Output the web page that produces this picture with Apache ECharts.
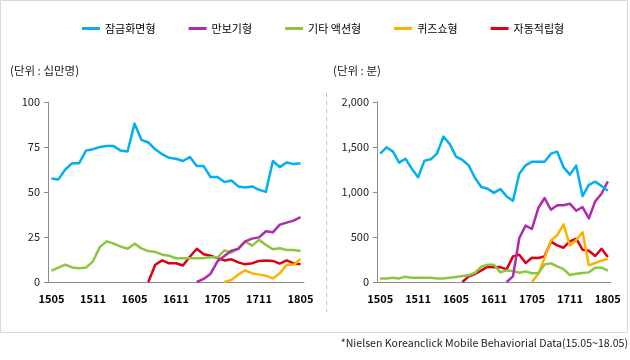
<!DOCTYPE html>
<html>
<head>
<meta charset="utf-8">
<script src="https://cdn.jsdelivr.net/npm/echarts@6/dist/echarts.min.js"></script>
<style>
html,body{margin:0;padding:0;background:#fff;}
#chart{width:630px;height:360px;}
</style>
</head>
<body>
<div id="chart"></div>
<script>
var months = ['1505','1506','1507','1508','1509','1510','1511','1512','1601','1602','1603','1604','1605','1606','1607','1608','1609','1610','1611','1612','1701','1702','1703','1704','1705','1706','1707','1708','1709','1710','1711','1712','1801','1802','1803','1804','1805'];
var seriesNames = ['잠금화면형','만보기형','기타 액션형','퀴즈쇼형','자동적립형'];
var colors = ['#00B0F0','#B02AB0','#8CC63F','#FFB000','#E00016'];

// 사용자 수 (단위: 십만명)
var lockUsers = [57.5,57,62.5,66,66,73,73.8,75,75.5,75.5,73,72.5,88,79,77.5,73.7,71,69,68.5,67.2,69.4,64.4,64.4,58.3,58.3,55.5,56.4,53.1,52.5,53.1,51.2,50.1,67.2,63.8,66.4,65.5,66];
var stepUsers = [null,null,null,null,null,null,null,null,null,null,null,null,null,null,null,null,null,null,null,null,null,0,1.7,4.6,11.5,14.5,17.4,18.4,22.6,24.1,24.8,28.2,27.6,31.9,33,34.1,36];
var actionUsers = [6.3,8,9.6,8.1,7.6,8,11.5,19.5,22.6,21.3,19.7,18.5,21.3,18.7,17.2,16.7,15.2,14.6,13.2,13.2,13.2,13.2,13.3,13.7,13.7,17.6,16.3,18.5,22.6,20.2,23.4,20.6,18.2,18.7,17.8,17.8,17.2];
var quizUsers = [null,null,null,null,null,null,null,null,null,null,null,null,null,null,null,null,null,null,null,null,null,null,null,null,null,0,1.1,4.1,6.5,4.8,4.1,3.5,2.0,4.8,9.6,9.6,12.8];
var autoUsers = [null,null,null,null,null,null,null,null,null,null,null,null,null,null,0,9.6,12,10.4,10.4,9.2,14,18.5,15.4,14.6,13.3,12,12.6,10.9,9.8,10.4,11.7,12,11.7,10.2,12,10.4,9.8];

// 이용시간 (단위: 분)
var lockTime = [1426,1496,1452,1326,1370,1259,1163,1348,1363,1430,1615,1533,1393,1356,1296,1156,1056,1037,990,1033,951,903,1203,1296,1337,1337,1337,1426,1448,1274,1193,1293,955,1078,1115,1067,1015];
var stepTime = [null,null,null,null,null,null,null,null,null,null,null,null,null,null,null,null,null,null,null,null,0,63,489,626,589,822,933,803,852,852,870,792,833,707,896,981,1118];
var actionTime = [40,40,48,40,59,48,48,48,48,40,40,48,55,66,74,103,170,192,192,107,129,122,103,118,96,96,196,207,174,144,77,92,100,107,159,159,126];
var quizTime = [null,null,null,null,null,null,null,null,null,null,null,null,null,null,null,null,null,null,null,null,null,null,null,null,0,90,265,458,522,640,405,466,552,185,211,237,259];
var autoTime = [null,null,null,null,null,null,null,null,null,null,null,null,null,0,63,89,129,170,163,166,140,285,303,211,270,266,285,448,407,381,452,481,359,348,289,370,277];

var leftTicks = [0,25,50,75,100];
var rightTicks = [0,500,1000,1500,2000];

var FONT = '"Noto Sans CJK KR", "Noto Sans", sans-serif';
var leftData = [lockUsers, stepUsers, actionUsers, quizUsers, autoUsers];
var rightData = [lockTime, stepTime, actionTime, quizTime, autoTime];

function makeSeries(dataArr, idx) {
  return dataArr.map(function (d, k) {
    return {
      name: seriesNames[k], type: 'line', xAxisIndex: idx, yAxisIndex: idx,
      data: d, showSymbol: false, symbol: 'none', connectNulls: false,
      lineStyle: { width: 2.5, color: colors[k], join: 'round' },
      itemStyle: { color: colors[k] }, z: 10 - k
    };
  });
}

function xAxis(idx) {
  return {
    type: 'category', gridIndex: idx, data: months, boundaryGap: true,
    axisLine: { lineStyle: { color: '#8c8c8c', width: 1 } },
    axisTick: { show: false },
    axisLabel: { interval: 5, color: '#000', fontWeight: 'bold', fontSize: 11, fontFamily: FONT, margin: 11 }
  };
}
function yAxis(idx, ticks, fmt) {
  return {
    type: 'value', gridIndex: idx, min: ticks[0], max: ticks[ticks.length - 1],
    interval: ticks[1] - ticks[0],
    axisLine: { show: true, lineStyle: { color: '#8c8c8c', width: 1 } },
    axisTick: { show: true, length: 4, lineStyle: { color: '#8c8c8c' } },
    splitLine: { show: false },
    axisLabel: { color: '#222', fontSize: 11, fontFamily: FONT, margin: 8, formatter: fmt }
  };
}

var chart = echarts.init(document.getElementById('chart'), null, { renderer: 'canvas' });
chart.setOption({
  animation: false,
  color: colors,
  legend: {
    data: seriesNames, left: 82, top: 23, itemWidth: 18, itemHeight: 3, itemGap: 33,
    icon: 'rect', padding: 0,
    textStyle: { fontSize: 11, fontFamily: FONT, color: '#000' }
  },
  grid: [
    { left: 48, top: 102, width: 256, height: 180 },
    { left: 377, top: 102, width: 234, height: 180 }
  ],
  xAxis: [xAxis(0), xAxis(1)],
  yAxis: [
    yAxis(0, leftTicks, function (v) { return String(v); }),
    yAxis(1, rightTicks, function (v) { return v.toLocaleString('en-US'); })
  ],
  graphic: [
    { type: 'rect', shape: { x: 0.5, y: 0.5, width: 627, height: 332 }, style: { fill: 'none', stroke: '#d9d9d9', lineWidth: 1 }, silent: true },
    { type: 'line', shape: { x1: 326.5, y1: 93, x2: 326.5, y2: 312 }, style: { stroke: '#c0c0c0', lineWidth: 1, lineDash: [4, 4] }, silent: true },
    { type: 'text', left: 10, top: 65, style: { text: '(단위 : 십만명)', fontSize: 11.5, fontFamily: FONT, fill: '#222' } },
    { type: 'text', left: 333, top: 65, style: { text: '(단위 : 분)', fontSize: 11.5, fontFamily: FONT, fill: '#222' } },
    { type: 'text', right: 2, top: 338, style: { text: '*Nielsen Koreanclick Mobile Behaviorial Data(15.05~18.05)', fontSize: 10.6, fontFamily: FONT, fill: '#222' } }
  ],
  series: makeSeries(leftData, 0).concat(makeSeries(rightData, 1))
});
</script>
</body>
</html>
